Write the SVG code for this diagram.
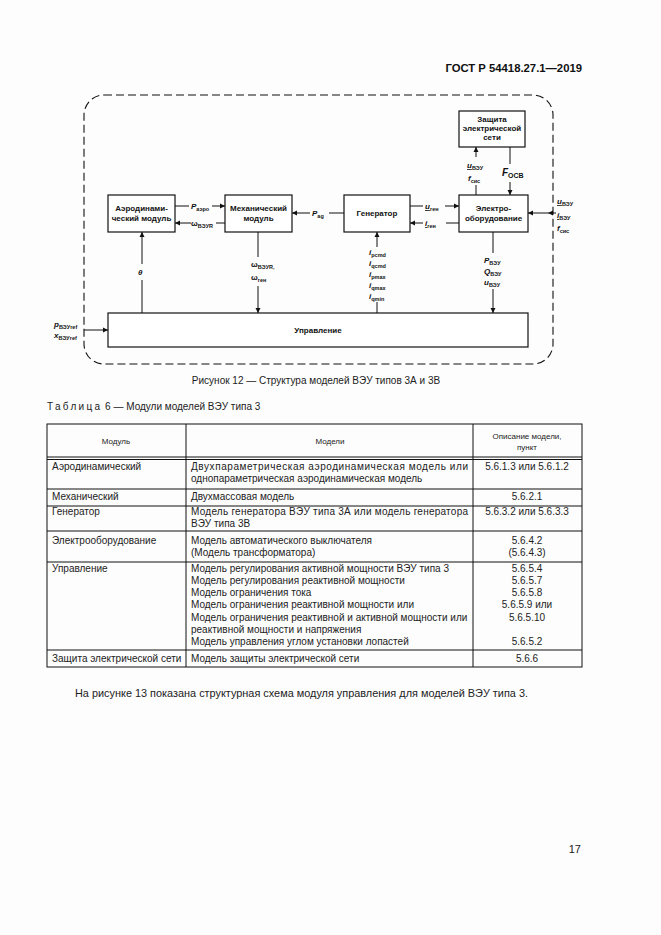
<svg xmlns="http://www.w3.org/2000/svg" width="661" height="935" viewBox="0 0 661 935">
<defs>
<marker id="ar" markerWidth="6" markerHeight="6" refX="5" refY="3" orient="auto" markerUnits="userSpaceOnUse">
<path d="M0,0.5 L5,3 L0,5.5 Z" fill="#111"/>
</marker>
<style>
.box{fill:#fff;stroke:#111;stroke-width:1.2}
.ln{stroke:#111;stroke-width:1;fill:none}
.bt{font-family:"Liberation Sans",Arial,sans-serif;font-size:8px;font-weight:bold;fill:#111;text-anchor:middle}
.lb{font-family:"Liberation Sans",Arial,sans-serif;font-size:8px;font-weight:bold;fill:#111}
.sb{font-size:5.5px}
.t{font-family:"Liberation Sans",Arial,sans-serif;font-size:10px;fill:#222}
.tc{font-family:"Liberation Sans",Arial,sans-serif;font-size:10px;fill:#222;text-anchor:middle}
.th{font-family:"Liberation Sans",Arial,sans-serif;font-size:8px;fill:#222;text-anchor:middle}
.tl{stroke:#111;stroke-width:1;fill:none}
</style>
</defs>
<rect width="661" height="935" fill="#fdfdfd"/>
<text x="582" y="72" font-family="Liberation Sans, Arial, sans-serif" font-size="11.3" font-weight="bold" text-anchor="end" fill="#111">ГОСТ Р 54418.27.1—2019</text>

<rect x="84" y="95" width="469" height="269" rx="20" ry="20" fill="none" stroke="#111" stroke-width="1.1" stroke-dasharray="8,4"/>

<g id="aero"><rect class="box" x="108" y="195" width="67" height="37"/><text class="bt" x="141.5" y="211">Аэродинами-</text><text class="bt" x="141.5" y="221">ческий модуль</text></g>
<g id="mech"><rect class="box" x="225" y="195" width="67" height="37"/><text class="bt" x="258.5" y="211">Механический</text><text class="bt" x="258.5" y="221">модуль</text></g>
<g id="gen"><rect class="box" x="344" y="195" width="66" height="37"/><text class="bt" x="377" y="216">Генератор</text></g>
<g id="elec"><rect class="box" x="459" y="195" width="69" height="37"/><text class="bt" x="493.5" y="211">Электро-</text><text class="bt" x="493.5" y="221">оборудование</text></g>
<g id="prot"><rect class="box" x="459" y="111" width="66" height="36"/><text class="bt" x="492" y="122">Защита</text><text class="bt" x="492" y="131">электрической</text><text class="bt" x="492" y="140">сети</text></g>
<g id="ctrl"><rect class="box" x="108" y="313" width="420" height="34"/><text class="bt" x="318" y="333">Управление</text></g>

<g id="connectors">
<path class="ln" d="M175,206 H189 M212,206 H225" marker-end="url(#ar)"/>
<path class="ln" d="M225,223 H216 M191,223 H175" marker-end="url(#ar)"/>
<path class="ln" d="M344,213 H329 M310,213 H292" marker-end="url(#ar)"/>
<path class="ln" d="M410,206 H423 M445,206 H459" marker-end="url(#ar)"/>
<path class="ln" d="M459,223 H446 M423,223 H410" marker-end="url(#ar)"/>
<path class="ln" d="M476,195 V185 M476,157 V147" marker-end="url(#ar)"/>
<path class="ln" d="M510,147 V164 M510,182 V195" marker-end="url(#ar)"/>
<path class="ln" d="M556,213 H548" marker-end="url(#ar)"/>
<path class="ln" d="M548,213 H528" marker-end="url(#ar)"/>
<path class="ln" d="M142,313 V280 M142,264 V232" marker-end="url(#ar)"/>
<path class="ln" d="M258,232 V257 M258,286 V313" marker-end="url(#ar)"/>
<path class="ln" d="M377,313 V302 M377,247 V232" marker-end="url(#ar)"/>
<path class="ln" d="M493,232 V253 M493,289 V313" marker-end="url(#ar)"/>
<path class="ln" d="M84,330 H108" marker-end="url(#ar)"/>
</g>

<g id="labels">
<text class="lb" x="191" y="209"><tspan font-style="italic">P</tspan><tspan class="sb" dy="1.5">аэро</tspan></text>
<text class="lb" x="191" y="226">ω<tspan class="sb" dy="1.5">ВЭУR</tspan></text>
<text class="lb" x="312" y="216"><tspan font-style="italic">P</tspan><tspan class="sb" dy="1.5">ag</tspan></text>
<text class="lb" x="425" y="209"><tspan font-style="italic" text-decoration="underline">u</tspan><tspan class="sb" dy="1.5">ген</tspan></text>
<text class="lb" x="425" y="226"><tspan font-style="italic" text-decoration="underline">i</tspan><tspan class="sb" dy="1.5">ген</tspan></text>
<text class="lb" x="467" y="168"><tspan font-style="italic" text-decoration="underline">u</tspan><tspan class="sb" dy="1.5">ВЭУ</tspan></text>
<text class="lb" x="468" y="181"><tspan font-style="italic">f</tspan><tspan class="sb" dy="1.5">сис</tspan></text>
<text class="lb" x="502" y="176" style="font-size:10px"><tspan font-style="italic">F</tspan><tspan style="font-size:7px" dy="1.5">OCB</tspan></text>
<text class="lb" x="557" y="204"><tspan font-style="italic" text-decoration="underline">u</tspan><tspan class="sb" dy="1.5">ВЭУ</tspan></text>
<text class="lb" x="557" y="218"><tspan font-style="italic" text-decoration="underline">i</tspan><tspan class="sb" dy="1.5">ВЭУ</tspan></text>
<text class="lb" x="557" y="231"><tspan font-style="italic">f</tspan><tspan class="sb" dy="1.5">сис</tspan></text>
<text class="lb" x="138" y="275" font-style="italic">θ</text>
<text class="lb" x="251" y="267">ω<tspan class="sb" dy="1.5">ВЭУR,</tspan></text>
<text class="lb" x="251" y="280">ω<tspan class="sb" dy="1.5">ген</tspan></text>
<text class="lb" x="369" y="255"><tspan font-style="italic">i</tspan><tspan class="sb" dy="1.5">pcmd</tspan></text>
<text class="lb" x="369" y="266"><tspan font-style="italic">i</tspan><tspan class="sb" dy="1.5">qcmd</tspan></text>
<text class="lb" x="369" y="277"><tspan font-style="italic">i</tspan><tspan class="sb" dy="1.5">pmax</tspan></text>
<text class="lb" x="369" y="288"><tspan font-style="italic">i</tspan><tspan class="sb" dy="1.5">qmax</tspan></text>
<text class="lb" x="369" y="299"><tspan font-style="italic">i</tspan><tspan class="sb" dy="1.5">qmin</tspan></text>
<text class="lb" x="484" y="263"><tspan font-style="italic">P</tspan><tspan class="sb" dy="1.5">ВЭУ</tspan></text>
<text class="lb" x="484" y="274"><tspan font-style="italic">Q</tspan><tspan class="sb" dy="1.5">ВЭУ</tspan></text>
<text class="lb" x="484" y="285"><tspan font-style="italic">u</tspan><tspan class="sb" dy="1.5">ВЭУ</tspan></text>
<text class="lb" x="54" y="327"><tspan font-style="italic">p</tspan><tspan class="sb" dy="1.5">ВЭУref</tspan></text>
<text class="lb" x="54" y="338"><tspan font-style="italic">x</tspan><tspan class="sb" dy="1.5">ВЭУref</tspan></text>
</g>

<text class="tc" x="316" y="384">Рисунок 12 — Структура моделей ВЭУ типов 3А и 3В</text>
<text class="t" x="47" y="410"><tspan letter-spacing="2.3">Таблица</tspan> 6 — Модули моделей ВЭУ типа 3</text>

<g id="table">
<rect class="tl" x="47" y="424" width="535" height="243"/>
<path class="tl" d="M186,424 V667 M473,424 V667 M47,457 H582 M47,459.5 H582 M47,489 H582 M47,506 H582 M47,531 H582 M47,562 H582 M47,650 H582"/>
<text class="th" x="116" y="444">Модуль</text>
<text class="th" x="330" y="444">Модели</text>
<text class="th" x="527" y="439">Описание модели,</text>
<text class="th" x="527" y="450">пункт</text>

<text class="t" x="52" y="470">Аэродинамический</text>
<text class="t" x="191" y="470" textLength="277" lengthAdjust="spacing">Двухпараметрическая аэродинамическая модель или</text>
<text class="t" x="191" y="482">однопараметрическая аэродинамическая модель</text>
<text class="tc" x="527" y="470">5.6.1.3 или 5.6.1.2</text>

<text class="t" x="52" y="500">Механический</text>
<text class="t" x="191" y="500">Двухмассовая модель</text>
<text class="tc" x="527" y="500">5.6.2.1</text>

<text class="t" x="52" y="515">Генератор</text>
<text class="t" x="191" y="515" textLength="277" lengthAdjust="spacing">Модель генератора ВЭУ типа 3А или модель генератора</text>
<text class="t" x="191" y="527">ВЭУ типа 3В</text>
<text class="tc" x="527" y="515">5.6.3.2 или 5.6.3.3</text>

<text class="t" x="52" y="544">Электрооборудование</text>
<text class="t" x="191" y="544">Модель автоматического выключателя</text>
<text class="t" x="191" y="556">(Модель трансформатора)</text>
<text class="tc" x="527" y="544">5.6.4.2</text>
<text class="tc" x="527" y="556">(5.6.4.3)</text>

<text class="t" x="52" y="572">Управление</text>
<text class="t" x="191" y="572">Модель регулирования активной мощности ВЭУ типа 3</text>
<text class="t" x="191" y="584">Модель регулирования реактивной мощности</text>
<text class="t" x="191" y="596">Модель ограничения тока</text>
<text class="t" x="191" y="608">Модель ограничения реактивной мощности или</text>
<text class="t" x="191" y="621">Модель ограничения реактивной и активной мощности или</text>
<text class="t" x="191" y="633">реактивной мощности и напряжения</text>
<text class="t" x="191" y="645">Модель управления углом установки лопастей</text>
<text class="tc" x="527" y="572">5.6.5.4</text>
<text class="tc" x="527" y="584">5.6.5.7</text>
<text class="tc" x="527" y="596">5.6.5.8</text>
<text class="tc" x="527" y="608">5.6.5.9 или</text>
<text class="tc" x="527" y="621">5.6.5.10</text>
<text class="tc" x="527" y="645">5.6.5.2</text>

<text class="t" x="52" y="662">Защита электрической сети</text>
<text class="t" x="191" y="662">Модель защиты электрической сети</text>
<text class="tc" x="527" y="662">5.6.6</text>
</g>

<text class="t" x="75" y="697" style="font-size:10.9px">На рисунке 13 показана структурная схема модуля управления для моделей ВЭУ типа 3.</text>
<text class="t" x="581" y="853" text-anchor="end" style="font-size:11px">17</text>
</svg>
